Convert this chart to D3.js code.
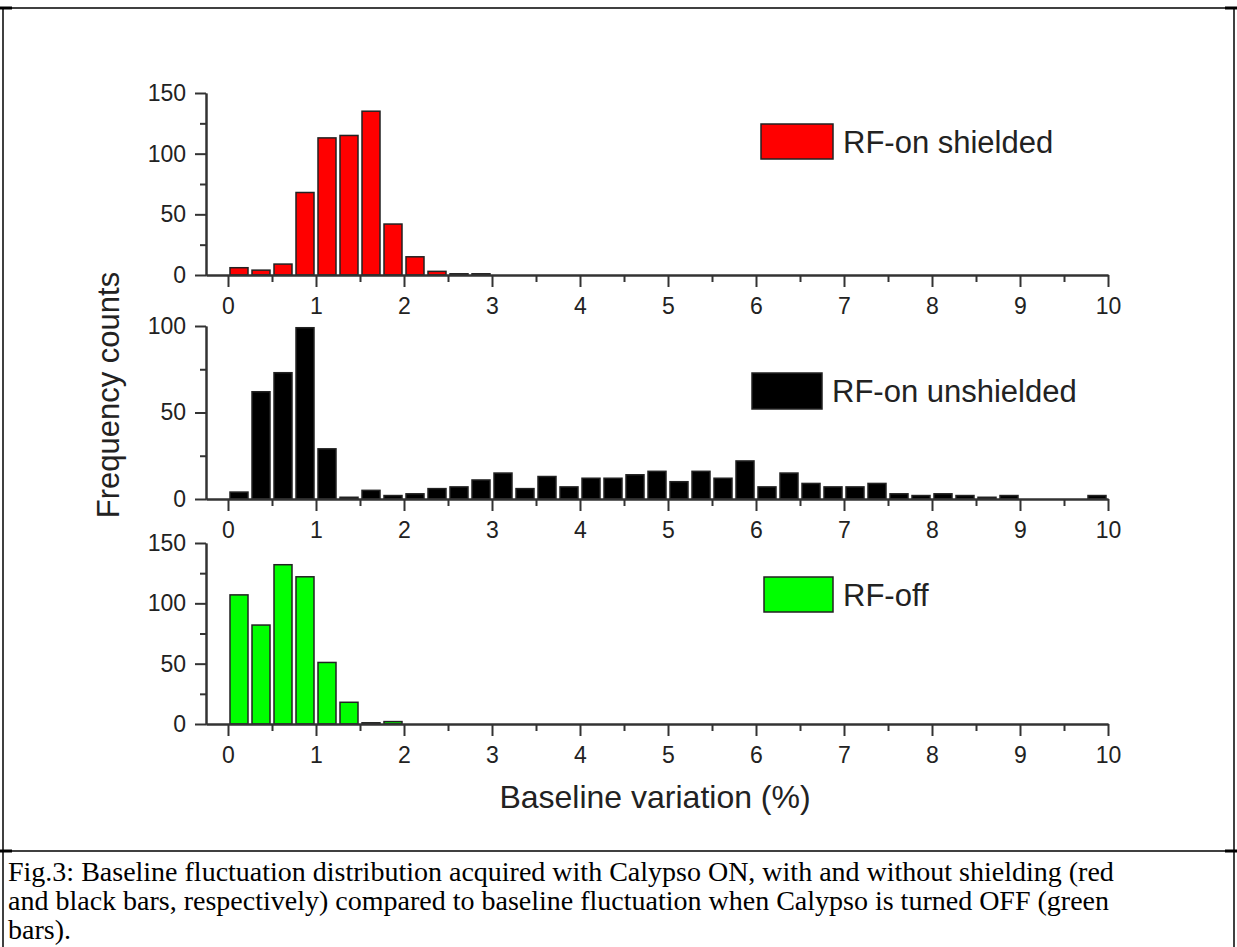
<!DOCTYPE html>
<html>
    <head>
        <meta charset="UTF-8">
        <title>Baseline fluctuation distribution</title>
        <style>
            body { margin: 0; background: #fff; }
            svg { display: block; background-color: #fff; }
            .axis path, .axis line { stroke: #333; stroke-width: 2px; }
            .axis text { font-family: "Liberation Sans", Arial, sans-serif; font-size: 23px; fill: #222; }
            .bar { stroke: #222; stroke-width: 1.5px; }
            .label { font-family: "Liberation Sans", Arial, sans-serif; fill: #222; }
            .caption { font-family: "Liberation Serif", "Times New Roman", serif; font-size: 28px; fill: #000; }
        </style>
    </head>
    <body>
        <script src="https://d3js.org/d3.v7.min.js"></script>
        <script type="text/javascript">

            // bin starts (bin width 0.25 %)
            var binStarts = [0, 0.25, 0.5, 0.75, 1, 1.25, 1.5, 1.75, 2, 2.25,
                             2.5, 2.75, 3, 3.25, 3.5, 3.75, 4, 4.25, 4.5, 4.75,
                             5, 5.25, 5.5, 5.75, 6, 6.25, 6.5, 6.75, 7, 7.25,
                             7.5, 7.75, 8, 8.25, 8.5, 8.75, 9, 9.25, 9.5, 9.75];
            var binWidth = 0.25;

            // counts
            var shieldedCounts   = [6, 4, 9, 68, 113, 115, 135, 42, 15, 3, 1, 1];
            var unshieldedCounts = [4, 62, 73, 99, 29, 1, 5, 2, 3, 6,
                                    7, 11, 15, 6, 13, 7, 12, 12, 14, 16,
                                    10, 16, 12, 22, 7, 15, 9, 7, 7, 9,
                                    3, 2, 3, 2, 1, 2, 0, 0, 0, 2];
            var offCounts        = [107, 82, 132, 122, 51, 18, 1, 2];

            var xTicks = [0, 1, 2, 3, 4, 5, 6, 7, 8, 9, 10];
            var xMinorTicks = [0.5, 1.5, 2.5, 3.5, 4.5, 5.5, 6.5, 7.5, 8.5, 9.5];

            var seriesNames = ["RF-on shielded", "RF-on unshielded", "RF-off"];
            var seriesColors = ["#ff0000", "#000000", "#00ff00"];

            var width = 1237, height = 947;

            var svg = d3.select("body").append("svg")
                .attr("width", width)
                .attr("height", height);

            // x scale shared by all three panels
            var x = d3.scaleLinear().domain([-0.25, 10]).range([206, 1108]);

            var panels = [
                {counts: shieldedCounts, yMax: 150, yTicks: [0, 50, 100, 150], yMinor: [25, 75, 125],
                 top: 93, bottom: 275, legend: {x: 761, y: 124, w: 72, h: 35}},
                {counts: unshieldedCounts, yMax: 100, yTicks: [0, 50, 100], yMinor: [25, 75],
                 top: 326, bottom: 499, legend: {x: 752, y: 373, w: 70, h: 36}},
                {counts: offCounts, yMax: 150, yTicks: [0, 50, 100, 150], yMinor: [25, 75, 125],
                 top: 543, bottom: 724, legend: {x: 764, y: 577, w: 69, h: 35}}
            ];

            panels.forEach(function(p, i) {
                var y = d3.scaleLinear().domain([0, p.yMax]).range([p.bottom, p.top]);
                var g = svg.append("g");

                // bars
                g.selectAll("rect.bar")
                    .data(p.counts.map(function(c, j) { return {start: binStarts[j], count: c}; })
                                  .filter(function(d) { return d.count > 0; }))
                    .enter().append("rect")
                    .attr("class", "bar")
                    .attr("x", function(d) { return x(d.start) + 2; })
                    .attr("width", function(d) { return x(d.start + binWidth) - x(d.start) - 4; })
                    .attr("y", function(d) { return y(d.count); })
                    .attr("height", function(d) { return y(0) - y(d.count); })
                    .attr("fill", seriesColors[i]);

                // x axis (minor, then major)
                g.append("g").attr("class", "axis")
                    .attr("transform", "translate(0," + p.bottom + ")")
                    .call(d3.axisBottom(x).tickValues(xMinorTicks).tickSize(7).tickSizeOuter(0).tickFormat(""));
                g.append("g").attr("class", "axis")
                    .attr("transform", "translate(0," + p.bottom + ")")
                    .call(d3.axisBottom(x).tickValues(xTicks).tickSize(12).tickSizeOuter(0).tickPadding(11));

                // y axis (minor, then major)
                g.append("g").attr("class", "axis")
                    .attr("transform", "translate(" + x(-0.25) + ",0)")
                    .call(d3.axisLeft(y).tickValues(p.yMinor).tickSize(6).tickSizeOuter(0).tickFormat(""));
                g.append("g").attr("class", "axis")
                    .attr("transform", "translate(" + x(-0.25) + ",0)")
                    .call(d3.axisLeft(y).tickValues(p.yTicks).tickSize(11).tickSizeOuter(0).tickPadding(9));

                // legend
                g.append("rect")
                    .attr("class", "bar")
                    .attr("x", p.legend.x).attr("y", p.legend.y)
                    .attr("width", p.legend.w).attr("height", p.legend.h)
                    .attr("fill", seriesColors[i]);
                g.append("text")
                    .attr("class", "label")
                    .attr("x", p.legend.x + p.legend.w + 10)
                    .attr("y", p.legend.y + p.legend.h / 2)
                    .attr("dy", "0.36em")
                    .style("font-size", "31px")
                    .text(seriesNames[i]);
            });

            // axis titles
            svg.append("text")
                .attr("class", "label")
                .attr("transform", "translate(119,395) rotate(-90)")
                .attr("text-anchor", "middle")
                .style("font-size", "31px")
                .text("Frequency counts");

            svg.append("text")
                .attr("class", "label")
                .attr("x", 655).attr("y", 808)
                .attr("text-anchor", "middle")
                .style("font-size", "32px")
                .text("Baseline variation (%)");

            // table frame round the figure and caption
            var frame = svg.append("g").attr("stroke", "#000");
            frame.append("line").attr("x1", 0).attr("x2", width).attr("y1", 8).attr("y2", 8).attr("stroke-width", 1.5);
            frame.append("line").attr("x1", 0).attr("x2", width).attr("y1", 851).attr("y2", 851).attr("stroke-width", 1.5);
            frame.append("line").attr("x1", 3).attr("x2", 3).attr("y1", 8).attr("y2", height).attr("stroke-width", 1.5);
            frame.append("line").attr("x1", 1234).attr("x2", 1234).attr("y1", 8).attr("y2", height).attr("stroke-width", 1.5);
            [8, 851].forEach(function(yy) {
                frame.append("line").attr("x1", 0).attr("x2", 12).attr("y1", yy).attr("y2", yy).attr("stroke-width", 3);
                frame.append("line").attr("x1", width - 12).attr("x2", width).attr("y1", yy).attr("y2", yy).attr("stroke-width", 3);
            });

            var captionLines = [
                "Fig.3: Baseline fluctuation distribution acquired with Calypso ON, with and without shielding (red",
                "and black bars, respectively) compared to baseline fluctuation when Calypso is turned OFF (green",
                "bars)."
            ];
            svg.selectAll("text.caption")
                .data(captionLines)
                .enter().append("text")
                .attr("class", "caption")
                .attr("x", 8)
                .attr("y", function(d, i) { return 881 + i * 29; })
                .text(function(d) { return d; });

        </script>
    </body>
</html>
